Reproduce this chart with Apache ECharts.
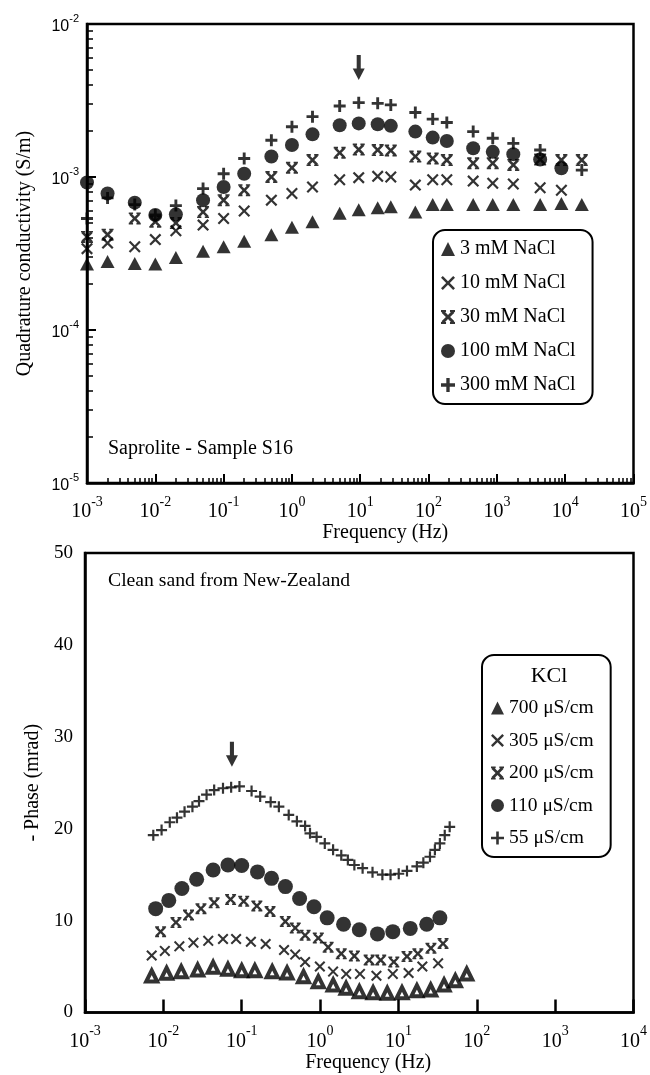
<!DOCTYPE html>
<html>
<head>
<meta charset="utf-8">
<script src="https://cdn.jsdelivr.net/npm/echarts@6/dist/echarts.min.js"></script>
<style>
  html, body { margin: 0; padding: 0; background: #fff; }
  #chart { width: 650px; height: 1075px; }
</style>
</head>
<body>
<div id="chart"></div>
<script>
// --- top panel: quadrature conductivity vs frequency ---
var freqTop = [0.001, 0.002, 0.005, 0.01, 0.02, 0.05, 0.1, 0.2, 0.5, 1, 2, 5, 9.5, 18, 28, 64, 115, 185, 450, 870, 1740, 4300, 8800, 17500];
var nacl3 = [2.7e-4, 2.8e-4, 2.72e-4, 2.7e-4, 2.98e-4, 3.27e-4, 3.5e-4, 3.8e-4, 4.2e-4, 4.7e-4, 5.1e-4, 5.8e-4, 6.1e-4, 6.3e-4, 6.4e-4, 5.9e-4, 6.6e-4, 6.6e-4, 6.6e-4, 6.6e-4, 6.6e-4, 6.6e-4, 6.7e-4, 6.6e-4];
var nacl10 = [3.4e-4, 3.7e-4, 3.5e-4, 3.9e-4, 4.45e-4, 4.85e-4, 5.36e-4, 6.0e-4, 7.06e-4, 7.8e-4, 8.6e-4, 9.6e-4, 9.9e-4, 1.01e-3, 1.0e-3, 8.85e-4, 9.6e-4, 9.6e-4, 9.4e-4, 9.1e-4, 9.0e-4, 8.5e-4, 8.2e-4, null];
var nacl30 = [4.06e-4, 4.2e-4, 5.36e-4, 5.1e-4, 5.0e-4, 5.9e-4, 7.06e-4, 8.2e-4, 1.0e-3, 1.15e-3, 1.29e-3, 1.44e-3, 1.51e-3, 1.5e-3, 1.49e-3, 1.36e-3, 1.32e-3, 1.29e-3, 1.23e-3, 1.23e-3, 1.2e-3, 1.3e-3, 1.29e-3, 1.29e-3];
var nacl100 = [9.2e-4, 7.8e-4, 6.8e-4, 5.64e-4, 5.7e-4, 7.06e-4, 8.6e-4, 1.05e-3, 1.36e-3, 1.62e-3, 1.9e-3, 2.18e-3, 2.24e-3, 2.21e-3, 2.16e-3, 1.98e-3, 1.81e-3, 1.72e-3, 1.54e-3, 1.46e-3, 1.41e-3, 1.3e-3, 1.14e-3, null];
var nacl300 = [5.36e-4, 7.3e-4, 6.6e-4, 5.64e-4, 6.5e-4, 8.4e-4, 1.05e-3, 1.32e-3, 1.74e-3, 2.13e-3, 2.48e-3, 2.91e-3, 3.06e-3, 3.03e-3, 2.96e-3, 2.64e-3, 2.39e-3, 2.27e-3, 1.98e-3, 1.79e-3, 1.66e-3, 1.5e-3, null, 1.11e-3];
var arrowTop = [[9.5, 5.2e-3]];

// --- bottom panel: phase vs frequency ---
var freq700 = [0.0071, 0.011, 0.0169, 0.0274, 0.0432, 0.0667, 0.1, 0.147, 0.245, 0.379, 0.615, 0.949, 1.47, 2.15, 3.17, 4.75, 7.21, 11.1, 17.2, 25.8, 38.2, 53.2, 74.4];
var phase700 = [3.97, 4.27, 4.44, 4.62, 4.92, 4.7, 4.55, 4.55, 4.44, 4.3, 3.9, 3.35, 3.0, 2.63, 2.27, 2.15, 2.09, 2.15, 2.37, 2.45, 3.0, 3.46, 4.19];
var freq305 = [0.0071, 0.01045, 0.016, 0.0242, 0.0374, 0.0577, 0.0848, 0.131, 0.202, 0.347, 0.482, 0.644, 0.994, 1.466, 2.154, 3.23, 5.24, 8.48, 13.48, 20.2, 32.1];
var phase305 = [6.2, 6.7, 7.2, 7.6, 7.8, 8.0, 8.0, 7.7, 7.45, 6.8, 6.3, 5.5, 5.0, 4.45, 4.2, 4.2, 4.0, 4.2, 4.3, 5.0, 5.35];
var freq200 = [0.00922, 0.01449, 0.02094, 0.0302, 0.0445, 0.0721, 0.106, 0.156, 0.23, 0.36, 0.482, 0.644, 0.949, 1.268, 1.864, 2.739, 4.23, 5.94, 8.73, 12.86, 17.7, 26.0, 37.1];
var phase200 = [8.8, 9.8, 10.6, 11.3, 11.95, 12.3, 12.1, 11.6, 11.0, 9.9, 9.2, 8.4, 8.1, 7.1, 6.4, 6.15, 5.7, 5.7, 5.5, 6.1, 6.4, 7.0, 7.5];
var freq110 = [0.00798, 0.01173, 0.01724, 0.0266, 0.0432, 0.0667, 0.1, 0.159, 0.24, 0.361, 0.548, 0.836, 1.232, 1.993, 3.17, 5.4, 8.48, 14.16, 22.96, 33.8];
var phase110 = [11.3, 12.2, 13.5, 14.5, 15.5, 16.05, 16.0, 15.3, 14.6, 13.7, 12.4, 11.5, 10.3, 9.6, 9.0, 8.55, 8.8, 9.15, 9.6, 10.3];
var freq55 = [0.00744, 0.00949, 0.01208, 0.01492, 0.01864, 0.0235, 0.0285, 0.0356, 0.0445, 0.0577, 0.0733, 0.0936, 0.1336, 0.172, 0.234, 0.298, 0.398, 0.506, 0.644, 0.744, 0.904, 1.149, 1.466, 1.864, 2.263, 2.739, 3.49, 4.67, 6.24, 7.93, 10.09, 12.86, 17.19, 20.8, 25.27, 29.2, 33.8, 39.0, 45.1];
var phase55 = [19.3, 19.85, 20.7, 21.2, 21.85, 22.4, 23.0, 23.7, 24.2, 24.4, 24.5, 24.6, 24.1, 23.5, 22.9, 22.4, 21.5, 20.8, 20.3, 19.5, 19.1, 18.4, 17.7, 17.1, 16.6, 16.05, 15.7, 15.25, 15.0, 15.0, 15.1, 15.4, 15.9, 16.3, 16.95, 17.7, 18.4, 19.3, 20.2];
var arrowBottom = [[0.075, 28.1]];

var SERIF = "'Liberation Serif','Times New Roman',serif";
var SANS = "'Liberation Sans',Arial,sans-serif";

var SYM = {
  plus: 'path://M3.8,0H6.2V3.8H10V6.2H6.2V10H3.8V6.2H0V3.8H3.8Z',
  plusThin: 'path://M4,0H6V4H10V6H6V10H4V6H0V4H4Z',
  cross: 'path://M0,1.3L1.3,0L5,3.7L8.7,0L10,1.3L6.3,5L10,8.7L8.7,10L5,6.3L1.3,10L0,8.7L3.7,5Z',
  star: 'path://M0.4,1.9L1.9,0.4L5,3.5L8.1,0.4L9.6,1.9L6.5,5L9.6,8.1L8.1,9.6L5,6.5L1.9,9.6L0.4,8.1L3.5,5Z M0,0H3.6V1.4H0Z M6.4,0H10V1.4H6.4Z M0,8.6H3.6V10H0Z M6.4,8.6H10V10H6.4Z',
  arrow: 'path://M3.3,0H6.7V13H10L5,24L0,13H3.3Z'
};

function pairs(xs, ys) {
  var out = [];
  for (var i = 0; i < xs.length; i++) {
    if (ys[i] != null) out.push([xs[i], ys[i]]);
  }
  return out;
}

// minor tick positions (log space) for the helper axes
function minorTicks(lo, hi) {
  var out = [];
  for (var d = lo; d < hi; d++) {
    for (var k = 2; k <= 9; k++) out.push(d + Math.log10(k));
  }
  return out;
}

function powLabel(v) {
  var e = Math.round(Math.log10(v));
  return '{b|10}{s|' + e + '}';
}

var richSerif = {
  b: { fontFamily: SERIF, fontSize: 20, color: '#000', verticalAlign: 'bottom', padding: [7, 0, 0, 0] },
  s: { fontFamily: SERIF, fontSize: 14, color: '#000', verticalAlign: 'top' }
};
var richSans = {
  b: { fontFamily: SANS, fontSize: 16, color: '#000', verticalAlign: 'bottom', padding: [6, 0, 0, 0] },
  s: { fontFamily: SANS, fontSize: 11, color: '#000', verticalAlign: 'top' }
};

var black = '#000';
var nameStyle = { fontFamily: SERIF, fontSize: 20, color: black };

var chart = echarts.init(document.getElementById('chart'), null, { renderer: 'canvas' });

chart.setOption({
  animation: false,
  backgroundColor: '#fff',
  grid: [
    { left: 87, top: 24, width: 552, height: 459, show: true, borderColor: black, borderWidth: 2.5, backgroundColor: 'transparent' },
    { left: 85, top: 553, width: 556, height: 459.5, show: true, borderColor: black, borderWidth: 2.5, backgroundColor: 'transparent' }
  ],
  xAxis: [
    {
      gridIndex: 0, type: 'log', logBase: 10, min: 0.001, max: 100000, splitNumber: 8,
      name: 'Frequency (Hz)', nameLocation: 'middle', nameGap: 37,
      nameTextStyle: { fontFamily: SERIF, fontSize: 20, color: black, padding: [0, 0, 0, 50] },
      axisLine: { onZero: false, lineStyle: { color: black, width: 2.5 } },
      axisTick: { inside: true, length: 9, lineStyle: { color: black, width: 2 } },
      splitLine: { show: false },
      axisLabel: { formatter: powLabel, rich: richSerif, margin: 12 }
    },
    {
      gridIndex: 0, type: 'value', min: -3, max: 5, position: 'bottom',
      axisLine: { show: false, onZero: false }, splitLine: { show: false },
      axisLabel: { show: false },
      axisTick: { show: true, inside: true, length: 5, customValues: minorTicks(-3, 5), lineStyle: { color: black, width: 1.5 } }
    },
    {
      gridIndex: 1, type: 'log', logBase: 10, min: 0.001, max: 10000, splitNumber: 7,
      name: 'Frequency (Hz)', nameLocation: 'middle', nameGap: 36,
      nameTextStyle: { fontFamily: SERIF, fontSize: 20, color: black, padding: [0, 0, 0, 18] },
      axisLine: { onZero: false, lineStyle: { color: black, width: 2.5 } },
      axisTick: { inside: true, length: 13, lineStyle: { color: black, width: 2.5 } },
      splitLine: { show: false },
      axisLabel: { formatter: powLabel, rich: richSerif, margin: 12 }
    }
  ],
  yAxis: [
    {
      gridIndex: 0, type: 'log', logBase: 10, min: 1e-5, max: 1e-2, splitNumber: 3,
      name: 'Quadrature conductivity (S/m)', nameLocation: 'middle', nameGap: 52, nameTextStyle: nameStyle,
      axisLine: { onZero: false, lineStyle: { color: black, width: 2.5 } },
      axisTick: { inside: true, length: 9, lineStyle: { color: black, width: 2 } },
      splitLine: { show: false },
      axisLabel: { formatter: powLabel, rich: richSans, margin: 8 }
    },
    {
      gridIndex: 0, type: 'value', min: -5, max: -2, position: 'left',
      axisLine: { show: false, onZero: false }, splitLine: { show: false },
      axisLabel: { show: false },
      axisTick: { show: true, inside: true, length: 6, customValues: minorTicks(-5, -2), lineStyle: { color: black, width: 1.5 } }
    },
    {
      gridIndex: 1, type: 'value', min: 0, max: 50, interval: 10,
      name: '- Phase (mrad)', nameLocation: 'middle', nameGap: 40, nameTextStyle: nameStyle,
      axisLine: { onZero: false, lineStyle: { color: black, width: 2.5 } },
      axisTick: { show: false },
      splitLine: { show: false },
      axisLabel: { fontFamily: SERIF, fontSize: 19, color: black, margin: 12 }
    }
  ],
  legend: [
    {
      data: ['3 mM NaCl', '10 mM NaCl', '30 mM NaCl', '100 mM NaCl', '300 mM NaCl'],
      orient: 'vertical', left: 433, top: 230,
      padding: [9, 17, 9, 8], itemGap: 14, itemWidth: 14, itemHeight: 14,
      borderColor: black, borderWidth: 2, borderRadius: 12,
      selectedMode: false,
      textStyle: { fontFamily: SERIF, fontSize: 20, color: black, lineHeight: 20 }
    },
    {
      data: [
        { name: '700 μS/cm', itemStyle: { color: black, borderWidth: 0 } },
        '305 μS/cm', '200 μS/cm', '110 μS/cm', '55 μS/cm'
      ],
      orient: 'vertical', left: 482, top: 655,
      padding: [43, 17, 9, 9], itemGap: 12.5, itemWidth: 13, itemHeight: 13,
      borderColor: black, borderWidth: 2, borderRadius: 12,
      selectedMode: false,
      textStyle: { fontFamily: SERIF, fontSize: 19.5, color: black, lineHeight: 20 }
    }
  ],
  graphic: [
    { type: 'text', x: 108, y: 449, style: { text: 'Saprolite - Sample S16', font: '20px ' + SERIF, fill: black, verticalAlign: 'middle' } },
    { type: 'text', x: 108, y: 581, style: { text: 'Clean sand from New-Zealand', font: '19.7px ' + SERIF, fill: black, verticalAlign: 'middle' } },
    { type: 'text', x: 549, y: 676, style: { text: 'KCl', font: '22px ' + SERIF, fill: black, align: 'center', verticalAlign: 'middle' } }
  ],
  series: [
    { name: '3 mM NaCl', type: 'scatter', xAxisIndex: 0, yAxisIndex: 0, data: pairs(freqTop, nacl3), symbol: 'triangle', symbolSize: [14, 13], itemStyle: { color: black } },
    { name: '10 mM NaCl', type: 'scatter', xAxisIndex: 0, yAxisIndex: 0, data: pairs(freqTop, nacl10), symbol: SYM.cross, symbolSize: 12, itemStyle: { color: black } },
    { name: '30 mM NaCl', type: 'scatter', xAxisIndex: 0, yAxisIndex: 0, data: pairs(freqTop, nacl30), symbol: SYM.star, symbolSize: 12, itemStyle: { color: black } },
    { name: '300 mM NaCl', type: 'scatter', xAxisIndex: 0, yAxisIndex: 0, data: pairs(freqTop, nacl300), symbol: SYM.plus, symbolSize: 12, itemStyle: { color: black } },
    { name: '100 mM NaCl', type: 'scatter', xAxisIndex: 0, yAxisIndex: 0, data: pairs(freqTop, nacl100), symbol: 'circle', symbolSize: 14, itemStyle: { color: black } },
    { name: 'arrowTop', type: 'scatter', xAxisIndex: 0, yAxisIndex: 0, data: arrowTop, symbol: SYM.arrow, symbolSize: [12, 25], itemStyle: { color: black }, silent: true },

    { name: '700 μS/cm', type: 'scatter', xAxisIndex: 2, yAxisIndex: 2, data: pairs(freq700, phase700), symbol: 'triangle', symbolSize: [11, 11], itemStyle: { color: '#fff', borderColor: black, borderWidth: 4 } },
    { name: '305 μS/cm', type: 'scatter', xAxisIndex: 2, yAxisIndex: 2, data: pairs(freq305, phase305), symbol: SYM.cross, symbolSize: 11, itemStyle: { color: black } },
    { name: '200 μS/cm', type: 'scatter', xAxisIndex: 2, yAxisIndex: 2, data: pairs(freq200, phase200), symbol: SYM.star, symbolSize: 11, itemStyle: { color: black } },
    { name: '110 μS/cm', type: 'scatter', xAxisIndex: 2, yAxisIndex: 2, data: pairs(freq110, phase110), symbol: 'circle', symbolSize: 15, itemStyle: { color: black } },
    { name: '55 μS/cm', type: 'scatter', xAxisIndex: 2, yAxisIndex: 2, data: pairs(freq55, phase55), symbol: SYM.plusThin, symbolSize: 11, itemStyle: { color: black } },
    { name: 'arrowBottom', type: 'scatter', xAxisIndex: 2, yAxisIndex: 2, data: arrowBottom, symbol: SYM.arrow, symbolSize: [12, 25], itemStyle: { color: black }, silent: true }
  ]
});
window.addEventListener('resize', function() { chart.resize(); });
</script>
</body>
</html>
